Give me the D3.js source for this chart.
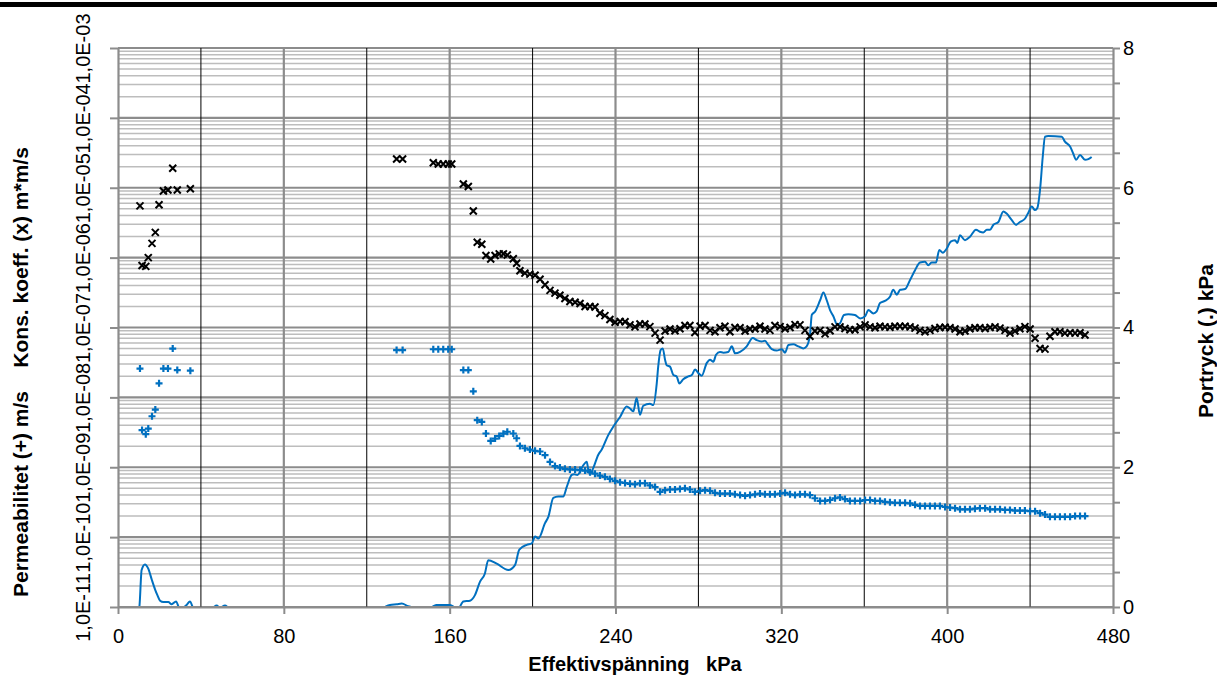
<!DOCTYPE html>
<html>
<head>
<meta charset="utf-8">
<script src="https://cdn.jsdelivr.net/npm/d3@7"></script>
<style>
  html, body { margin: 0; padding: 0; background: #fff; }
  svg { display: block; font-family: "Liberation Sans", Arial, sans-serif; }
</style>
</head>
<body>
<div class="div-chart"></div>
<script>
// stress levels (kPa) where consolidation coefficient and permeability were evaluated
const stress = [
  10.6, 11.6, 13.4, 14.6, 16.4, 18.0, 19.8, 21.9, 24.1, 26.4, 28.6, 34.9,
  134.4, 137.3, 152.1, 154.5, 156.9, 159.3, 161.0, 166.6, 169.0, 171.4, 173.3, 175.5,
  177.5, 179.8, 181.9, 183.9, 185.9, 187.8, 190.7, 192.3,
  193.9, 196.3, 198.7, 201.2, 203.6, 206.0, 208.4, 210.8, 213.2, 215.6,
  218.0, 220.5, 222.9, 225.3, 227.7, 230.1, 232.5, 234.9, 237.3, 239.8,
  242.2, 244.6, 247.0, 249.4, 251.8, 254.2, 256.6, 259.1, 261.5, 263.9,
  266.3, 268.7, 271.1, 273.5, 275.9, 278.3, 280.8, 283.2, 285.6, 288.0,
  290.4, 292.8, 295.2, 297.6, 300.1, 302.5, 304.9, 307.3, 309.7, 312.1,
  314.5, 316.9, 319.4, 321.8, 324.2, 326.6, 329.0, 331.4, 333.8, 336.2,
  338.7, 341.1, 343.5, 345.9, 348.3, 350.7, 353.1, 355.5, 358.0, 360.4,
  362.8, 365.2, 367.6, 370.0, 372.4, 374.8, 377.2, 379.7, 382.1, 384.5,
  386.9, 389.3, 391.7, 394.1, 396.5, 399.0, 401.4, 403.8, 406.2, 408.6,
  411.0, 413.4, 415.8, 418.3, 420.7, 423.1, 425.5, 427.9, 430.3, 432.7,
  435.1, 437.5, 440.0, 442.4, 444.8, 447.2, 449.6, 452.0, 454.4, 456.8,
  459.3, 461.7, 464.1, 466.5
];

// Kons. koeff. (x) m*m/s
const kons = [
  5.5e-6, 7.7e-7, 7.5e-7, 1.0e-6, 1.6e-6, 2.3e-6, 5.7e-6, 9.0e-6, 9.3e-6, 1.9e-5, 9.3e-6, 9.7e-6,
  2.58e-5, 2.58e-5, 2.28e-5, 2.19e-5, 2.19e-5, 2.19e-5, 2.19e-5, 1.13e-5, 1.04e-5, 4.65e-6, 1.66e-6, 1.55e-6,
  1.07e-6, 9.55e-7, 1.07e-6, 1.13e-6, 1.13e-6, 1.09e-6, 9.66e-7, 8.3e-7,
  6.5e-7, 6.0e-7, 5.8e-7, 5.6e-7, 4.9e-7, 4.1e-7, 3.4e-7, 3.1e-7, 2.9e-7, 2.6e-7,
  2.36e-7, 2.3e-7, 2.2e-7, 2.0e-7, 2.0e-7, 1.97e-7, 1.6e-7, 1.48e-7, 1.3e-7, 1.19e-7,
  1.22e-7, 1.21e-7, 1.09e-7, 1.02e-7, 1.12e-7, 1.12e-7, 1.03e-7, 8.3e-8, 6.6e-8, 8.9e-8,
  9.5e-8, 9.0e-8, 9.6e-8, 1.07e-7, 1.07e-7, 8.5e-8, 1.04e-7, 1.07e-7, 9.1e-8, 8.7e-8,
  9.9e-8, 1.04e-7, 8.7e-8, 1.0e-7, 9.9e-8, 8.9e-8, 9.5e-8, 9.6e-8, 1.04e-7, 9.5e-8,
  9.1e-8, 1.07e-7, 1.03e-7, 9.6e-8, 1.0e-7, 1.10e-7, 1.09e-7, 9.1e-8, 7.5e-8, 8.9e-8,
  9.1e-8, 8.1e-8, 9.0e-8, 1.02e-7, 1.02e-7, 9.7e-8, 9.3e-8, 9.3e-8, 1.02e-7, 1.09e-7,
  1.02e-7, 9.9e-8, 1.04e-7, 1.02e-7, 1.01e-7, 1.04e-7, 1.04e-7, 1.04e-7, 1.02e-7, 9.8e-8,
  9.1e-8, 8.7e-8, 9.1e-8, 9.7e-8, 1.0e-7, 1.01e-7, 9.9e-8, 9.5e-8, 8.7e-8, 8.9e-8,
  9.6e-8, 9.9e-8, 9.9e-8, 9.7e-8, 1.0e-7, 1.02e-7, 9.8e-8, 9.1e-8, 8.3e-8, 8.9e-8,
  9.6e-8, 1.03e-7, 9.5e-8, 7.0e-8, 5.0e-8, 4.9e-8, 7.5e-8, 8.7e-8, 8.7e-8, 8.3e-8,
  8.4e-8, 8.3e-8, 8.4e-8, 7.8e-8
];

// Permeabilitet (+) m/s
const perm = [
  2.58e-8, 3.4e-9, 2.97e-9, 3.58e-9, 5.37e-9, 6.7e-9, 1.59e-8, 2.58e-8, 2.58e-8, 5.0e-8, 2.46e-8, 2.41e-8,
  4.75e-8, 4.75e-8, 4.88e-8, 4.88e-8, 4.88e-8, 4.88e-8, 4.88e-8, 2.46e-8, 2.46e-8, 1.22e-8, 4.71e-9, 4.45e-9,
  3.04e-9, 2.38e-9, 2.57e-9, 2.8e-9, 3.02e-9, 3.22e-9, 3.04e-9, 2.6e-9,
  2.02e-9, 1.87e-9, 1.79e-9, 1.72e-9, 1.68e-9, 1.49e-9, 1.19e-9, 1.04e-9, 9.9e-10, 9.5e-10,
  9.3e-10, 9.25e-10, 9.1e-10, 8.95e-10, 8.5e-10, 8.1e-10, 7.6e-10, 7.3e-10, 6.8e-10, 6.4e-10,
  6.1e-10, 5.95e-10, 5.8e-10, 5.7e-10, 5.9e-10, 5.9e-10, 5.5e-10, 5.2e-10, 4.45e-10, 4.7e-10,
  4.8e-10, 4.8e-10, 4.9e-10, 5.0e-10, 4.8e-10, 4.45e-10, 4.6e-10, 4.7e-10, 4.6e-10, 4.3e-10,
  4.2e-10, 4.2e-10, 4.2e-10, 4.1e-10, 4.0e-10, 3.9e-10, 4.0e-10, 4.1e-10, 4.2e-10, 4.1e-10,
  4.1e-10, 4.1e-10, 4.2e-10, 4.3e-10, 4.1e-10, 4.0e-10, 4.1e-10, 4.1e-10, 4.0e-10, 3.6e-10,
  3.3e-10, 3.3e-10, 3.4e-10, 3.6e-10, 3.7e-10, 3.5e-10, 3.3e-10, 3.3e-10, 3.3e-10, 3.4e-10,
  3.4e-10, 3.3e-10, 3.3e-10, 3.2e-10, 3.15e-10, 3.1e-10, 3.1e-10, 3.1e-10, 3.05e-10, 2.9e-10,
  2.8e-10, 2.8e-10, 2.8e-10, 2.8e-10, 2.8e-10, 2.7e-10, 2.65e-10, 2.6e-10, 2.5e-10, 2.5e-10,
  2.5e-10, 2.55e-10, 2.6e-10, 2.6e-10, 2.5e-10, 2.5e-10, 2.5e-10, 2.45e-10, 2.45e-10, 2.4e-10,
  2.4e-10, 2.4e-10, 2.35e-10, 2.35e-10, 2.2e-10, 2.1e-10, 1.95e-10, 1.95e-10, 1.95e-10, 1.95e-10,
  1.95e-10, 2.0e-10, 2.0e-10, 2.0e-10
];

// Portryck (.) kPa, continuous log
const portStress = [
  0, 9.2, 10.3, 11.4, 13.0, 14.6, 16.3, 17.9, 19.0, 20.3, 21.9, 24.3, 25.9, 28.0, 29.6, 31.2,
  33.1, 34.7, 36.3, 39.6, 45.8, 47.6, 49.2, 51.6, 53.2, 56.4,
  126.4, 131.2, 134.5, 136.9, 140.0, 143.3, 145.7, 149.6, 152.0, 153.7, 160.2, 162.6, 164.2,
  166.6, 169.8, 172.2, 174.6, 177.0, 178.6, 182.7, 188.3, 191.5, 193.6,
  197.2, 199.6, 201.2, 202.8, 206.0, 207.6, 210.0, 212.4, 214.8, 216.5,
  218.9, 220.0, 221.6, 224.5, 226.1, 226.9, 227.7, 229.3, 231.7, 233.3,
  236.5, 238.9, 242.2, 245.4, 247.0, 248.6, 250.2, 251.8, 253.4, 256.6,
  258.2, 259.9, 260.6, 261.8, 262.8, 263.9, 264.7, 266.3, 267.9, 269.5,
  270.8, 272.7, 275.1, 276.8, 278.4, 279.9, 281.6, 284.0, 285.6, 287.2,
  288.5, 290.4, 292.0, 294.4, 296.1, 297.7, 300.1, 303.3, 306.2, 308.1,
  310.5, 312.1, 313.7, 315.4, 317.8, 320.2, 321.8, 323.4, 325.8, 328.2,
  330.6, 332.2, 333.8, 334.7, 336.3, 338.7, 340.3, 341.9, 343.5, 345.1,
  347.0, 348.3, 350.2, 352.3, 355.5, 358.0, 360.4, 362.0, 364.4, 366.0,
  367.6, 370.0, 372.4, 374.0, 375.7, 377.3, 379.7, 382.1, 384.5, 386.9,
  389.3, 390.9, 392.5, 394.6, 396.2, 397.9, 399.8, 401.7, 403.8, 404.9,
  406.2, 408.6, 411.0, 413.9, 415.8, 417.4, 419.1, 420.7, 422.3, 424.7,
  427.1, 428.7, 431.1, 433.2, 435.1, 437.6, 439.1, 440.8, 442.4, 443.5,
  444.8, 446.1, 447.2, 448.8, 455.3, 456.8, 459.3, 460.8, 462.2, 464.1,
  466.5, 468.1, 469.7
];
const portValue = [
  -0.1, -0.1, 0.0, 0.53, 0.61, 0.55, 0.39, 0.25, 0.17, 0.09, 0.07, 0.07, 0.04, 0.08, -0.01, -0.01,
  0.03, 0.08, -0.02, -0.1, -0.01, 0.02, -0.01, 0.02, -0.01, -0.1,
  -0.02, 0.03, 0.04, 0.05, 0.01, -0.01, -0.03, -0.03, 0.01, 0.03, 0.03, -0.01, -0.02,
  0.08, 0.09, 0.17, 0.36, 0.48, 0.67, 0.62, 0.53, 0.60, 0.82,
  0.89, 0.91, 1.01, 0.98, 1.20, 1.29, 1.56, 1.58, 1.58, 1.72,
  1.89, 1.90, 1.89, 2.03, 2.08, 1.96, 1.90, 1.99, 2.18, 2.25,
  2.46, 2.58, 2.72, 2.87, 2.84, 2.80, 2.99, 2.75, 2.88, 2.91,
  2.89, 3.20, 3.44, 3.68, 3.70, 3.54, 3.46, 3.44, 3.32, 3.30,
  3.20, 3.26, 3.30, 3.32, 3.40, 3.35, 3.31, 3.49, 3.54, 3.51,
  3.61, 3.65, 3.64, 3.65, 3.73, 3.63, 3.65, 3.73, 3.85, 3.82,
  3.80, 3.81, 3.75, 3.69, 3.67, 3.69, 3.64, 3.75, 3.76, 3.73,
  3.70, 3.73, 3.89, 4.18, 4.23, 4.39, 4.50, 4.39, 4.25, 4.16,
  4.04, 4.06, 4.18, 4.19, 4.18, 4.13, 4.16, 4.25, 4.20, 4.23,
  4.35, 4.38, 4.44, 4.54, 4.47, 4.54, 4.55, 4.68, 4.82, 4.93,
  4.94, 4.89, 4.93, 4.93, 5.11, 5.07, 5.13, 5.23, 5.25, 5.21,
  5.32, 5.25, 5.30, 5.40, 5.37, 5.36, 5.40, 5.40, 5.47, 5.51,
  5.66, 5.63, 5.54, 5.47, 5.51, 5.56, 5.64, 5.73, 5.68, 5.71,
  5.97, 6.44, 6.73, 6.74, 6.73, 6.66, 6.59, 6.49, 6.40, 6.47,
  6.40, 6.41, 6.44
];

// axis ticks
const xTicks = [0, 80, 160, 240, 320, 400, 480];
const xMinorGrid = [40, 120, 200, 280, 360, 440];
const decades = [1e-11, 1e-10, 1e-9, 1e-8, 1e-7, 1e-6, 1e-5, 1e-4, 1e-3];
const minorMult = [2, 3, 4, 5, 6, 7, 8, 9];
const rightTicks = [0, 0.5, 1, 1.5, 2, 2.5, 3, 3.5, 4, 4.5, 5, 5.5, 6, 6.5, 7, 7.5, 8];

const width = 1217, height = 677;
const plotL = 118, plotR = 1113, plotT = 48, plotB = 607;
const blue = '#0070c0', gridGray = '#8c8c8c', minorGray = '#bdbdbd';
const font = '"Liberation Sans", Arial, sans-serif';

const svg = d3.select('.div-chart')
    .append('svg')
    .attr('width', width)
    .attr('height', height)
    .attr('viewBox', `0 0 ${width} ${height}`);

// heavy rule across the top of the page
svg.append('rect')
    .attr('x', 0).attr('y', 2)
    .attr('width', width).attr('height', 5)
    .attr('fill', '#000');

const xScale = d3.scaleLinear().domain([0, 480]).range([plotL, plotR]);
const yScale = d3.scaleLog().domain([1e-11, 1e-3]).range([plotB, plotT]);
const yRight = d3.scaleLinear().domain([0, 8]).range([plotB, plotT]);

// gridlines
const grid = svg.append('g');
const minorVals = decades.slice(0, -1).flatMap(d => minorMult.map(m => m * d));

grid.selectAll('.hminor')
    .data(minorVals)
    .enter().append('line')
    .attr('x1', plotL).attr('x2', plotR)
    .attr('y1', d => yScale(d)).attr('y2', d => yScale(d))
    .attr('stroke', minorGray)
    .attr('stroke-width', 1.5);

grid.selectAll('.hmajor')
    .data(decades)
    .enter().append('line')
    .attr('x1', plotL).attr('x2', plotR)
    .attr('y1', d => yScale(d)).attr('y2', d => yScale(d))
    .attr('stroke', gridGray)
    .attr('stroke-width', 2.2);

grid.selectAll('.vminor')
    .data(xMinorGrid)
    .enter().append('line')
    .attr('x1', d => xScale(d)).attr('x2', d => xScale(d))
    .attr('y1', plotT).attr('y2', plotB)
    .attr('stroke', '#000')
    .attr('stroke-width', 1);

grid.selectAll('.vmajor')
    .data(xTicks.slice(1, -1))
    .enter().append('line')
    .attr('x1', d => xScale(d)).attr('x2', d => xScale(d))
    .attr('y1', plotT).attr('y2', plotB)
    .attr('stroke', gridGray)
    .attr('stroke-width', 2.2);

// axes
function fmtE(d) {
    const e = Math.round(Math.log10(d));
    return '1,0E' + (e < 0 ? '-' : '+') + String(Math.abs(e)).padStart(2, '0');
}

function styleAxis(g) {
    g.attr('font-family', font).attr('font-size', 20);
    g.select('.domain').attr('stroke', gridGray).attr('stroke-width', 2.2);
    g.selectAll('.tick line').attr('stroke', gridGray).attr('stroke-width', 2);
    g.selectAll('.tick text').attr('fill', '#000');
}

const xAxisG = svg.append('g')
    .attr('transform', `translate(0,${plotB})`)
    .call(d3.axisBottom(xScale).tickValues(xTicks).tickSize(7).tickSizeOuter(0))
    .call(styleAxis);
xAxisG.selectAll('.tick text').attr('y', 36).attr('dy', 0);

const yAxisG = svg.append('g')
    .attr('transform', `translate(${plotL},0)`)
    .call(d3.axisLeft(yScale).tickValues(decades).tickFormat(fmtE).tickSize(8).tickSizeOuter(0))
    .call(styleAxis);
yAxisG.selectAll('.tick text')
    .attr('transform', 'rotate(-90)')
    .attr('x', 0).attr('y', -28).attr('dy', 0)
    .attr('text-anchor', 'middle');

svg.append('g')
    .attr('transform', `translate(${plotR},0)`)
    .call(d3.axisRight(yRight).tickValues(rightTicks)
        .tickFormat(d => d % 2 === 0 ? d : '').tickSize(7).tickSizeOuter(0))
    .call(styleAxis);

// axis titles
svg.append('text')
    .attr('x', 635).attr('y', 671)
    .attr('text-anchor', 'middle')
    .attr('font-family', font).attr('font-size', 20).attr('font-weight', 'bold')
    .style('white-space', 'pre')
    .text('Effektivspänning   kPa');

svg.append('text')
    .attr('transform', 'translate(28,597) rotate(-90)')
    .attr('text-anchor', 'start')
    .attr('font-family', font).attr('font-size', 21).attr('font-weight', 'bold')
    .style('white-space', 'pre')
    .text('Permeabilitet (+) m/s    Kons. koeff. (x) m*m/s');

svg.append('text')
    .attr('transform', 'translate(1213,341) rotate(-90)')
    .attr('text-anchor', 'middle')
    .attr('font-family', font).attr('font-size', 21).attr('font-weight', 'bold')
    .text('Portryck (.) kPa');

// pore pressure line, clipped to plot area
svg.append('clipPath').attr('id', 'plotClip')
    .append('rect')
    .attr('x', plotL).attr('y', plotT - 2)
    .attr('width', plotR - plotL).attr('height', plotB - plotT + 1);

const lineData = portStress.map((s, i) => ({ s, v: portValue[i] }));
const line = d3.line()
    .x(d => xScale(d.s))
    .y(d => yRight(d.v))
    .curve(d3.curveMonotoneX);

svg.append('path')
    .datum(lineData)
    .attr('clip-path', 'url(#plotClip)')
    .attr('fill', 'none')
    .attr('stroke', blue)
    .attr('stroke-width', 2)
    .attr('stroke-linejoin', 'round')
    .attr('d', line);

// markers
const pts = stress.map((s, i) => ({ s, k: kons[i], p: perm[i] }));
const r = 3.5;

svg.append('g').selectAll('path')
    .data(pts)
    .enter().append('path')
    .attr('d', d => {
        const cx = xScale(d.s), cy = yScale(d.p);
        return `M${cx - r},${cy}H${cx + r}M${cx},${cy - r}V${cy + r}`;
    })
    .attr('stroke', blue)
    .attr('stroke-width', 2.2)
    .attr('fill', 'none');

svg.append('g').selectAll('path')
    .data(pts)
    .enter().append('path')
    .attr('d', d => {
        const cx = xScale(d.s), cy = yScale(d.k);
        return `M${cx - r},${cy - r}L${cx + r},${cy + r}M${cx - r},${cy + r}L${cx + r},${cy - r}`;
    })
    .attr('stroke', '#000')
    .attr('stroke-width', 2)
    .attr('fill', 'none');
</script>
</body>
</html>
